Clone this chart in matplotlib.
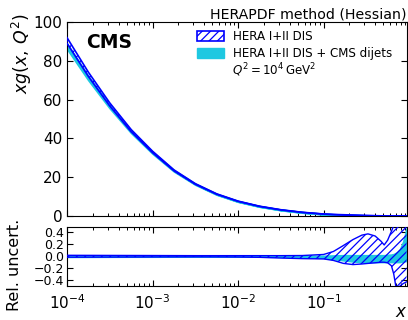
import numpy as np
import matplotlib
matplotlib.use("Agg")
import matplotlib.pyplot as plt
from matplotlib.patches import Patch
from matplotlib.ticker import LogLocator, NullFormatter

# ---- data ----
x_vals = [1e-4, 1.78e-4, 3.16e-4, 5.62e-4, 1e-3, 1.78e-3, 3.16e-3, 5.62e-3,
          1e-2, 1.78e-2, 3.16e-2, 5.62e-2, 0.1,
          0.13, 0.17, 0.22, 0.28, 0.33, 0.4, 0.47, 0.51, 0.56, 0.62, 0.66,
          0.72, 0.78, 0.85, 0.93]

xg_hera = [90.5, 73.0, 57.5, 44.0, 33.0, 23.5, 16.5, 11.3,
           7.6, 5.0, 3.2, 1.9, 1.0,
           0.75, 0.55, 0.38, 0.25, 0.18, 0.11, 0.07, 0.05, 0.035, 0.02, 0.015,
           0.008, 0.004, 0.001, 0.0]
xg_dijet = [87.5, 71.0, 56.3, 43.4, 32.6, 23.3, 16.4, 11.2,
            7.5, 4.95, 3.15, 1.88, 1.0,
            0.75, 0.55, 0.38, 0.25, 0.18, 0.11, 0.07, 0.05, 0.035, 0.02, 0.015,
            0.008, 0.004, 0.001, 0.0]

hera_up = [0.016, 0.015, 0.014, 0.013, 0.012, 0.011, 0.010, 0.010,
           0.010, 0.010, 0.010, 0.012, 0.03,
           0.08, 0.18, 0.28, 0.355, 0.376, 0.34, 0.25, 0.19, 0.27, 0.42, 0.52,
           0.75, 0.95, 1.1, 1.2]
hera_dn = [-0.016, -0.015, -0.014, -0.013, -0.012, -0.011, -0.010, -0.011,
           -0.013, -0.018, -0.03, -0.04, -0.045,
           -0.07, -0.12, -0.14, -0.13, -0.12, -0.11, -0.10, -0.10, -0.11, -0.16, -0.30,
           -0.62, -0.50, -0.46, -0.43]
dij_up = [0.013, 0.012, 0.011, 0.010, 0.010, 0.009, 0.009, 0.009,
          0.009, 0.009, 0.009, 0.009, 0.01,
          0.015, 0.02, 0.02, 0.02, 0.02, 0.02, 0.02, 0.02, 0.025, 0.03, 0.04,
          0.07, 0.12, 0.25, 0.47]
dij_dn = [-0.013, -0.012, -0.011, -0.010, -0.010, -0.009, -0.009, -0.009,
          -0.009, -0.009, -0.011, -0.02, -0.03,
          -0.05, -0.07, -0.09, -0.10, -0.10, -0.10, -0.10, -0.10, -0.10, -0.10, -0.10,
          -0.10, -0.10, -0.09, -0.08]

main_yticks = [0, 20, 40, 60, 80, 100]
ratio_yticks = [-0.4, -0.2, 0.0, 0.2, 0.4]
ratio_ylabels = ["\u22120.4", "\u22120.2", "0.0", "0.2", "0.4"]

BLUE = "#0000ff"
CYAN = "#1ec8e1"

x = np.array(x_vals)
hc = np.array(xg_hera)
dc = np.array(xg_dijet)
hu, hd = np.array(hera_up), np.array(hera_dn)
du, dd = np.array(dij_up), np.array(dij_dn)

plt.rcParams['hatch.linewidth'] = 0.9

fig = plt.figure(figsize=(4.08, 3.20), dpi=100)
ax = fig.add_axes([67/408, 1-216/320, (406.5-67)/408, (216-22)/320])
axr = fig.add_axes([67/408, 1-286/320, (406.5-67)/408, (286-226.5)/320], sharex=ax)

# main panel
ax.fill_between(x, dc*(1+dd), dc*(1+du), facecolor=CYAN, edgecolor=CYAN, lw=1.6, zorder=2)
ax.fill_between(x, hc*(1+hd), hc*(1+hu), facecolor='none', edgecolor=BLUE,
                hatch='////', lw=0, zorder=3)
ax.plot(x, hc*(1+hu), color=BLUE, lw=1.2, zorder=4)
ax.plot(x, hc*(1+hd), color=BLUE, lw=1.2, zorder=4)

# ratio panel
axr.fill_between(x, dd, du, facecolor=CYAN, edgecolor=CYAN, lw=1.0, zorder=2)
axr.fill_between(x, hd, hu, facecolor='none', edgecolor=BLUE,
                 hatch='////', lw=0, zorder=3)
axr.plot(x, hu, color=BLUE, lw=1.0, zorder=4)
axr.plot(x, hd, color=BLUE, lw=1.0, zorder=4)

for a in (ax, axr):
    a.set_xscale('log')
    a.set_xlim(1e-4, 0.93)
    a.xaxis.set_major_locator(LogLocator(base=10, numticks=10))
    a.xaxis.set_minor_locator(LogLocator(base=10, subs=np.arange(2, 10), numticks=20))
    a.xaxis.set_minor_formatter(NullFormatter())
    a.tick_params(which='both', direction='in', top=True, right=True)
    a.tick_params(which='major', length=4.5, width=0.8)
    a.tick_params(which='minor', length=2.5, width=0.7)

ax.set_ylim(0, 100)
ax.set_yticks(main_yticks)
ax.tick_params(axis='y', labelsize=11)
ax.tick_params(axis='x', labelbottom=False)

axr.set_ylim(-0.5, 0.5)
axr.set_yticks(ratio_yticks)
axr.set_yticklabels(ratio_ylabels)
axr.tick_params(axis='y', labelsize=9, pad=2)
axr.tick_params(axis='x', labelsize=11, pad=5)

# texts
ax.set_title("HERAPDF method (Hessian)", loc='right', fontsize=10.2, pad=2)
ax.text(0.055, 0.945, "CMS", transform=ax.transAxes, fontsize=13.5,
        fontweight='bold', va='top', ha='left')
fig.text(22/408, 1-54/320, r"$xg(x,\,Q^2)$", rotation=90, fontsize=12.5,
         ha='center', va='center')
fig.text(15/408, 1-265/320, "Rel. uncert.", rotation=90, fontsize=11.5,
         ha='center', va='center')
fig.text(401/408, 1-312/320, r"$x$", fontsize=12, ha='center', va='center')

handles = [Patch(facecolor='white', edgecolor=BLUE, hatch='////', lw=1.2),
           Patch(facecolor=CYAN, edgecolor=CYAN)]
ax.legend(handles, ["HERA I+II DIS", "HERA I+II DIS + CMS dijets"],
          loc='upper left', bbox_to_anchor=(0.37, 0.985), frameon=False,
          fontsize=8.6, handlelength=2.2, handleheight=0.9,
          handletextpad=0.8, labelspacing=0.4, borderaxespad=0.0)
fig.text(232/408, 1-70/320, r"$Q^2 = 10^4\,\mathrm{GeV}^2$", fontsize=8.6,
         ha='left', va='center')

fig.savefig("out.png", dpi=100)
